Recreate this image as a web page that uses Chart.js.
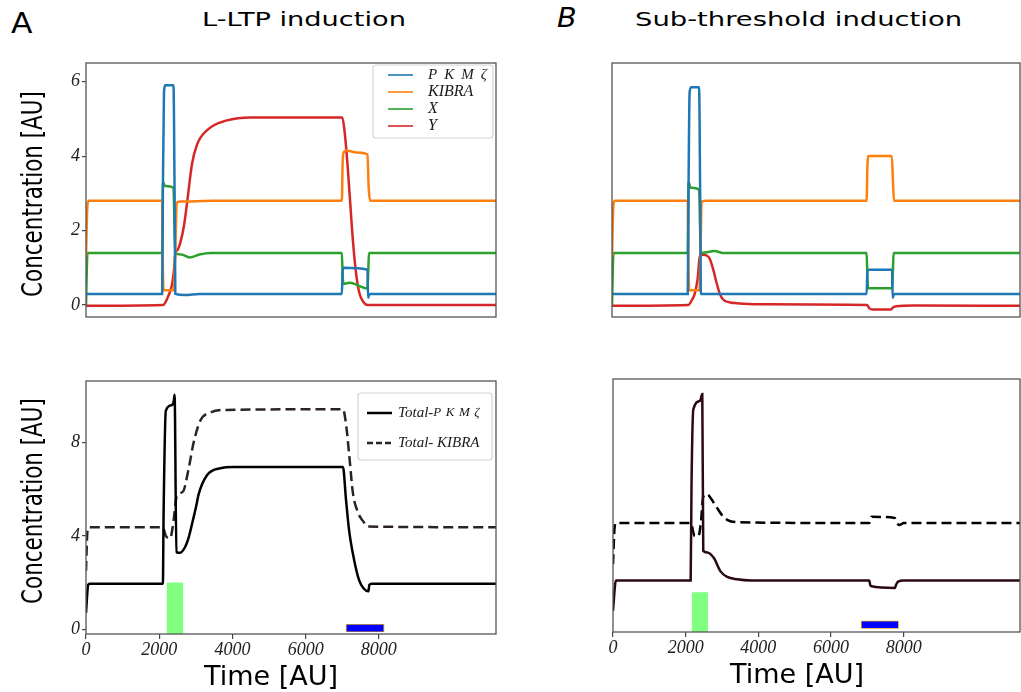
<!DOCTYPE html>
<html>
<head>
<meta charset="utf-8">
<script src="https://cdn.jsdelivr.net/npm/chart.js@4.4.1/dist/chart.umd.min.js"></script>
<style>
  html, body { margin: 0; padding: 0; background: #fff; }
  body { width: 1021px; height: 692px; position: relative; overflow: hidden; font-family: 'DejaVu Sans', sans-serif; }
  .panel { position: absolute; }
  .lbl { position: absolute; line-height: 1; color: #000; white-space: nowrap; transform-origin: 0 0; }
  .ctr { position: absolute; line-height: 1; color: #000; white-space: nowrap; }
</style>
</head>
<body>
<div class="lbl" style="left:11px;top:10px;font-size:28px;transform:scaleX(1.12);">A</div>
<div class="lbl" style="left:202px;top:9px;font-size:20px;transform:scaleX(1.36);">L-LTP induction</div>
<div class="lbl" style="left:557px;top:5px;font-size:26px;font-style:oblique;transform:scaleX(1.1);">B</div>
<div class="lbl" style="left:635px;top:9px;font-size:20px;transform:scaleX(1.37);">Sub-threshold induction</div>

<div class="panel" style="left:0;top:40px;width:505px;height:290px;"><canvas id="topA"></canvas></div>
<div class="panel" style="left:510px;top:40px;width:511px;height:290px;"><canvas id="topB"></canvas></div>
<div class="panel" style="left:0;top:360px;width:505px;height:332px;"><canvas id="botA"></canvas></div>
<div class="panel" style="left:510px;top:360px;width:511px;height:332px;"><canvas id="botB"></canvas></div>

<!-- axis titles -->
<div class="ctr" style="left:32px;top:194px;font-size:29px;transform:translate(-50%,-50%) rotate(-90deg) scaleX(0.74);">Concentration [AU]</div>
<div class="ctr" style="left:32px;top:501px;font-size:29px;transform:translate(-50%,-50%) rotate(-90deg) scaleX(0.74);">Concentration [AU]</div>
<div class="ctr" style="left:271px;top:675px;font-size:27px;transform:translate(-50%,-50%);">Time [AU]</div>
<div class="ctr" style="left:797px;top:673px;font-size:27px;transform:translate(-50%,-50%);">Time [AU]</div>

<script>
const timeMax = 11200;
const xTicks = [0, 2000, 4000, 6000, 8000];
const topYTicks = [0, 2, 4, 6];
const bottomYTicks = [0, 4, 8];

// A, upper panel
const aPkmT = [0, 2080, 2100, 2130, 2170, 2390, 2420, 2440, 2700, 3100, 6990, 7010, 7040, 7690, 7705, 7725, 7760, 11200];
const aPkmV = [0.3, 0.3, 3.0, 5.7, 5.9, 5.9, 3.0, 0.3, 0.27, 0.3, 0.3, 0.9, 1.0, 0.95, 0.2, 0.25, 0.3, 0.3];
const aKibT = [0, 40, 80, 2080, 2100, 2120, 2400, 2440, 2480, 2600, 3500, 6990, 7010, 7040, 7100, 7400, 7690, 7720, 7760, 11200];
const aKibV = [1.3, 2.7, 2.8, 2.8, 1.0, 0.4, 0.4, 1.5, 2.75, 2.78, 2.8, 2.8, 3.8, 4.1, 4.15, 4.1, 4.05, 3.2, 2.8, 2.8];
const aXT = [0, 40, 2080, 2095, 2110, 2150, 2390, 2420, 2440, 2600, 2830, 3100, 3400, 6990, 7010, 7040, 7200, 7690, 7710, 7730, 11200];
const aXV = [0, 1.4, 1.4, 3.0, 3.3, 3.2, 3.15, 2.0, 1.4, 1.36, 1.28, 1.36, 1.4, 1.4, 0.8, 0.57, 0.6, 0.45, 0.9, 1.4, 1.4];
const aYT = [0, 2100, 2250, 2350, 2410, 2440, 2500, 2575, 2680, 2760, 2895, 3030, 3310, 3850, 4500, 7000, 7060, 7150, 7270, 7360, 7460, 7580, 7700, 11200];
const aYV = [-0.02, 0, 0.25, 0.55, 1.0, 1.38, 1.48, 1.67, 2.15, 2.74, 3.78, 4.3, 4.7, 4.96, 5.04, 5.04, 4.7, 3.7, 2.0, 1.0, 0.35, 0.08, 0.0, 0.0];

// B, upper panel
const bPkmT = [0, 2080, 2100, 2130, 2170, 2390, 2420, 2440, 2700, 3100, 6990, 7010, 7040, 7690, 7705, 7725, 7760, 11200];
const bPkmV = [0.3, 0.3, 3.0, 5.7, 5.85, 5.85, 3.0, 0.3, 0.3, 0.3, 0.3, 0.9, 0.95, 0.95, 0.2, 0.25, 0.3, 0.3];
const bKibT = [0, 40, 80, 2080, 2100, 2120, 2400, 2430, 2460, 2600, 3500, 6990, 7010, 7040, 7680, 7710, 7740, 11200];
const bKibV = [1.3, 2.7, 2.8, 2.8, 1.0, 0.4, 0.4, 1.5, 2.78, 2.8, 2.8, 2.8, 3.7, 4.0, 4.0, 3.4, 2.8, 2.8];
const bXT = [0, 40, 2080, 2095, 2110, 2150, 2390, 2420, 2440, 2600, 2820, 3050, 6990, 7010, 7030, 7690, 7710, 7730, 11200];
const bXV = [0, 1.4, 1.4, 3.0, 3.3, 3.15, 3.1, 2.0, 1.4, 1.42, 1.45, 1.4, 1.4, 0.8, 0.45, 0.45, 0.9, 1.4, 1.4];
const bYT = [0, 2090, 2200, 2270, 2350, 2410, 2500, 2600, 2680, 2780, 2870, 2960, 3050, 3250, 3420, 4050, 7000, 7060, 7150, 7650, 7720, 7800, 8300, 11200];
const bYV = [-0.02, 0, 0.15, 0.3, 0.7, 1.3, 1.35, 1.33, 1.25, 0.95, 0.6, 0.3, 0.15, 0.07, 0.05, 0.02, 0.0, -0.08, -0.12, -0.12, -0.06, -0.03, -0.01, -0.02];

// A, lower panel (totals)
const aTotPkmT = [0, 60, 100, 2100, 2120, 2180, 2340, 2400, 2420, 2470, 2560, 2700, 2800, 2895, 3000, 3080, 3305, 3670, 4040, 7020, 7100, 7190, 7320, 7460, 7580, 7715, 7740, 7800, 11200];
const aTotPkmV = [0.7, 1.9, 1.95, 1.95, 5.0, 9.36, 9.6, 9.8, 10.05, 3.3, 3.27, 3.5, 3.9, 4.5, 5.2, 5.8, 6.6, 6.9, 6.95, 6.95, 5.6, 4.2, 3.0, 2.1, 1.75, 1.62, 1.9, 1.95, 1.95];
const aTotKibT = [0, 40, 80, 2100, 2180, 2300, 2380, 2480, 2650, 2800, 2940, 3120, 3400, 3850, 7020, 7110, 7200, 7290, 7430, 7570, 7700, 11200];
const aTotKibV = [2.5, 4.2, 4.37, 4.37, 4.0, 3.9, 4.5, 5.7, 5.9, 6.85, 8.0, 8.93, 9.29, 9.4, 9.43, 8.7, 7.3, 5.85, 5.0, 4.63, 4.4, 4.37];

// B, lower panel (totals)
const bTotPkmT = [0, 80, 2137, 2160, 2210, 2393, 2457, 2484, 2594, 2776, 2959, 3142, 3416, 3800, 7050, 7080, 7115, 7753, 7800, 7845, 8000, 11200];
const bTotPkmV = [0.7, 2.0, 2.0, 6.0, 9.33, 9.7, 10.0, 3.27, 3.2, 2.96, 2.39, 2.15, 2.05, 2.0, 2.0, 1.8, 1.75, 1.68, 1.85, 1.95, 2.0, 2.0];
const bTotKibT = [0, 40, 80, 2137, 2250, 2350, 2420, 2484, 2594, 2700, 2868, 3000, 3142, 3416, 7050, 7115, 7753, 7800, 7890, 8000, 11200];
const bTotKibV = [2.7, 4.2, 4.46, 4.46, 3.9, 3.9, 4.5, 5.6, 5.7, 5.5, 5.1, 4.8, 4.6, 4.5, 4.46, 4.73, 4.68, 4.5, 4.38, 4.46, 4.46];

// stimulus windows
const aGreenPulse = [2200, 2660], aGreenTop = 2.0;
const aBluePulse = [7115, 8130], aBlueRange = [-0.1, 0.19];
const bGreenPulse = [2164, 2620], bGreenTop = 1.5;
const bBluePulse = [6840, 7845], bBlueRange = [-0.04, 0.24];

const C = { pkm: '#1f77b4', kib: '#ff7f0e', x: '#2ca02c', y: '#d62728' };
const tickFont = { family: "'Liberation Serif', 'DejaVu Serif', serif", style: 'italic', size: 18 };
const legendSerif = "'Liberation Serif', 'DejaVu Serif', serif";

function pts(t, v) { return t.map((x, i) => ({ x, y: v[i] })); }

function line(label, t, v, color, extra) {
    return Object.assign({ label, data: pts(t, v), borderColor: color, borderWidth: 2.5, fill: false }, extra || {});
}

function greenBar(range, top) {
    return { data: [{ x: range[0], y: top }, { x: range[1], y: top }], fill: 'start',
        backgroundColor: '#80ff80', borderWidth: 0, tension: 0, cubicInterpolationMode: 'default' };
}

function blueBar(range, yr) {
    return [
        { data: [{ x: range[0], y: yr[1] }, { x: range[1], y: yr[1] }], fill: { value: yr[0] },
          backgroundColor: '#0000ff', borderWidth: 0, tension: 0, cubicInterpolationMode: 'default' },
        { data: [{ x: range[0], y: yr[0] }, { x: range[0], y: yr[1] }, { x: range[1], y: yr[1] },
                 { x: range[1], y: yr[0] }, { x: range[0], y: yr[0] }],
          borderColor: '#d9a326', borderWidth: 1.3, fill: false, tension: 0, cubicInterpolationMode: 'default' }
    ];
}

// frame round the plot area
const framePlugin = {
    id: 'frame',
    afterDatasetsDraw(chart) {
        const { ctx, chartArea: a } = chart;
        ctx.save();
        ctx.strokeStyle = '#555';
        ctx.lineWidth = 1.3;
        ctx.strokeRect(a.left, a.top, a.right - a.left, a.bottom - a.top);
        ctx.restore();
    }
};

// matplotlib-like legend box drawn inside the axes
const boxLegend = {
    id: 'boxLegend',
    afterDraw(chart, args, o) {
        if (!o.box) return;
        const ctx = chart.ctx;
        const [bx, by, bw, bh] = o.box;
        ctx.save();
        ctx.fillStyle = 'rgba(255,255,255,0.9)';
        ctx.strokeStyle = '#d4d4d4';
        ctx.lineWidth = 1.2;
        ctx.beginPath();
        ctx.roundRect(bx, by, bw, bh, 3);
        ctx.fill();
        ctx.stroke();
        chart.data.datasets.filter(d => d.label).forEach((d, i) => {
            const y = by + o.first + i * o.step;
            ctx.strokeStyle = d.borderColor;
            ctx.lineWidth = o.lineWidth;
            ctx.setLineDash(d.borderDash ? o.dash : []);
            ctx.beginPath();
            ctx.moveTo(bx + o.lineX[0], y);
            ctx.lineTo(bx + o.lineX[1], y);
            ctx.stroke();
            ctx.setLineDash([]);
            ctx.fillStyle = '#1a1a1a';
            ctx.textBaseline = 'middle';
            let x = bx + o.textX;
            const k = d.label.indexOf('PKMζ');
            const head = k >= 0 ? d.label.slice(0, k) : d.label;
            ctx.font = `italic ${o.size}px ${legendSerif}`;
            ctx.letterSpacing = '0px';
            ctx.fillText(head, x, y);
            x += ctx.measureText(head).width;
            if (k >= 0) {
                ctx.font = `italic ${o.pkmSize}px ${legendSerif}`;
                ctx.letterSpacing = o.pkmSpacing + 'px';
                ctx.fillText('PKMζ', x, y);
                ctx.letterSpacing = '0px';
            }
        });
        ctx.restore();
    }
};

function makeChart(id, p) {
    const yScale = {
        type: 'linear', min: p.yMin, max: p.yMax,
        afterFit: s => { s.width = p.yWidth; },
        border: { display: false },
        grid: { display: !!p.yTicks, drawOnChartArea: false, tickLength: 4, color: '#444', lineWidth: 1.2 },
        ticks: { display: !!p.yTicks, font: tickFont, color: '#222', padding: 2, callback: v => String(v) }
    };
    if (p.yTicks) yScale.afterBuildTicks = s => { s.ticks = p.yTicks.map(v => ({ value: v })); };

    const xScale = {
        type: 'linear', min: 0, max: timeMax, display: p.xAxis,
        border: { display: false },
        afterBuildTicks: s => { s.ticks = xTicks.map(v => ({ value: v })); },
        grid: { drawOnChartArea: false, tickLength: 5, color: '#444', lineWidth: 1.2 },
        ticks: { font: tickFont, color: '#222', padding: 0, maxRotation: 0, autoSkip: false, callback: v => String(v) }
    };
    if (p.xAxis) xScale.afterFit = s => { s.height = p.xHeight; };

    return new Chart(document.getElementById(id), {
        type: 'line',
        data: { datasets: p.datasets },
        options: {
            responsive: true,
            maintainAspectRatio: false,
            animation: false,
            layout: { padding: p.padding },
            elements: { point: { radius: 0 }, line: { cubicInterpolationMode: 'monotone', borderCapStyle: 'butt' } },
            plugins: { legend: { display: false }, tooltip: { enabled: false }, boxLegend: p.legend || {} },
            scales: { x: xScale, y: yScale }
        },
        plugins: [framePlugin, boxLegend]
    });
}

makeChart('topA', {
    datasets: [
        line('PKMζ', aPkmT, aPkmV, C.pkm),
        line('KIBRA', aKibT, aKibV, C.kib),
        line('X', aXT, aXV, C.x),
        line('Y', aYT, aYV, C.y)
    ],
    yMin: -0.32, yMax: 6.5, yTicks: topYTicks, yWidth: 86, xAxis: false,
    padding: { top: 23, right: 9, bottom: 13, left: 0 },
    legend: { box: [373, 25, 120, 73], first: 10, step: 17, lineX: [15, 40], textX: 55,
              size: 16, pkmSize: 15, pkmSpacing: 7, lineWidth: 1.6, dash: [] }
});

makeChart('topB', {
    datasets: [
        line(null, bPkmT, bPkmV, C.pkm),
        line(null, bKibT, bKibV, C.kib),
        line(null, bXT, bXV, C.x),
        line(null, bYT, bYV, C.y)
    ],
    yMin: -0.32, yMax: 6.5, yTicks: null, yWidth: 102, xAxis: false,
    padding: { top: 23, right: 1, bottom: 13, left: 0 }
});

makeChart('botA', {
    datasets: [
        line('Total-PKMζ', aTotPkmT, aTotPkmV, '#000'),
        line('Total- KIBRA', aTotKibT, aTotKibV, '#2b2323', { borderDash: [10, 5] }),
        greenBar(aGreenPulse, aGreenTop),
        ...blueBar(aBluePulse, aBlueRange)
    ],
    yMin: -0.21, yMax: 10.64, yTicks: bottomYTicks, yWidth: 86, xAxis: true, xHeight: 58,
    padding: { top: 21, right: 9, bottom: 0, left: 0 },
    legend: { box: [358, 33, 134, 67], first: 20, step: 30, lineX: [9, 34], textX: 40,
              size: 15, pkmSize: 13, pkmSpacing: 4.5, lineWidth: 2.5, dash: [6, 3] }
});

makeChart('botB', {
    datasets: [
        line(null, bTotPkmT, bTotPkmV, '#2a0a10'),
        line(null, bTotKibT, bTotKibV, '#000', { borderDash: [10, 5] }),
        greenBar(bGreenPulse, bGreenTop),
        ...blueBar(bBluePulse, bBlueRange)
    ],
    yMin: -0.21, yMax: 10.64, yTicks: null, yWidth: 103, xAxis: true, xHeight: 60,
    padding: { top: 19, right: 1, bottom: 0, left: 0 }
});
</script>
</body>
</html>
